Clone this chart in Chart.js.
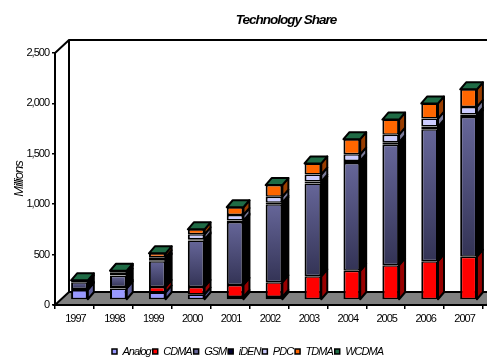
<!DOCTYPE html>
<html>
<head>
<meta charset="utf-8">
<title>Technology Share</title>
<script src="https://cdn.jsdelivr.net/npm/chart.js@4/dist/chart.umd.min.js"></script>
<style>
    html, body { margin: 0; padding: 0; background: #fff; }
    canvas { display: block; }
</style>
</head>
<body>
<canvas id="shareChart" width="487" height="360"></canvas>
<script>
const years = ['1997', '1998', '1999', '2000', '2001', '2002', '2003', '2004', '2005', '2006', '2007'];

const analog = [100, 115, 75, 55, 30, 30, 0, 0, 0, 0, 0];
const cdma = [10, 15, 55, 75, 120, 145, 235, 290, 345, 385, 430];
const gsm = [65, 110, 255, 460, 625, 775, 920, 1070, 1195, 1310, 1385];
const iden = [0, 5, 10, 12, 13, 15, 20, 20, 25, 25, 25];
const pdc = [0, 30, 30, 50, 55, 60, 70, 65, 75, 80, 75];
const tdma = [20, 15, 38, 49, 77, 115, 110, 150, 150, 150, 175];
const wcdma = [0, 0, 0, 0, 0, 0, 0, 0, 0, 0, 0];

const seriesNames = ['Analog', 'CDMA', 'GSM', 'iDEN', 'PDC', 'TDMA', 'WCDMA'];
const seriesValues = [analog, cdma, gsm, iden, pdc, tdma, wcdma];
const faceColors = ['#9999ff', '#ff0000', '#666699', '#000033', '#ccccff', '#ff6600', '#1f6b45'];
const sideColors = ['#5c5c99', '#990000', '#000000', '#000000', '#7a7a99', '#993d00', '#134029'];

const wallDepth = 14;
const barDepthX = 6;
const barDepthY = 7;

// Floor and walls sit behind everything, axis lines get painted over them
const wallsPlugin = {
    id: 'walls',
    beforeDraw(chart) {
        const { ctx, chartArea: a } = chart;
        const backX = a.left + wallDepth;
        const backBottom = a.bottom - wallDepth + 1;
        const backTop = a.top - wallDepth + 1;
        ctx.save();
        ctx.lineWidth = 2;
        ctx.strokeStyle = '#000';

        ctx.fillStyle = '#808080';
        ctx.beginPath();
        ctx.moveTo(a.left, a.bottom);
        ctx.lineTo(backX, backBottom);
        ctx.lineTo(500, backBottom);
        ctx.lineTo(487, a.bottom);
        ctx.closePath();
        ctx.fill();
        ctx.stroke();

        ctx.beginPath();
        ctx.moveTo(a.left, a.top);
        ctx.lineTo(backX, backTop);
        ctx.lineTo(487, backTop);
        ctx.moveTo(backX, backTop);
        ctx.lineTo(backX, backBottom);
        ctx.stroke();
        ctx.restore();

        ctx.save();
        ctx.font = 'italic bold 13.5px "Liberation Sans"';
        ctx.fillStyle = '#000';
        ctx.textAlign = 'center';
        ctx.fillText('Technology Share', 286, 20);
        ctx.restore();
    }
};

// Bars stand in the middle of the floor, so shift them back and add side and top faces
const depthPlugin = {
    id: 'barDepth',
    beforeDatasetsDraw(chart) {
        chart.ctx.save();
        chart.ctx.translate(5, -5);
    },
    afterDatasetsDraw(chart) {
        const ctx = chart.ctx;
        ctx.lineWidth = 2;
        ctx.lineJoin = 'round';
        ctx.strokeStyle = '#000';
        seriesValues.forEach((values, s) => {
            chart.getDatasetMeta(s).data.forEach(bar => {
                if (bar.base - bar.y < 1) return;
                const right = bar.x + bar.width / 2;
                ctx.fillStyle = sideColors[s];
                ctx.beginPath();
                ctx.moveTo(right, bar.y);
                ctx.lineTo(right + barDepthX, bar.y - barDepthY);
                ctx.lineTo(right + barDepthX, bar.base - barDepthY);
                ctx.lineTo(right, bar.base);
                ctx.closePath();
                ctx.fill();
                ctx.stroke();
            });
        });
        // WCDMA has no height, its element marks the top of each stack
        chart.getDatasetMeta(seriesNames.length - 1).data.forEach(bar => {
            const left = bar.x - bar.width / 2;
            const right = bar.x + bar.width / 2;
            ctx.fillStyle = faceColors[seriesNames.length - 1];
            ctx.beginPath();
            ctx.moveTo(left, bar.y);
            ctx.lineTo(right, bar.y);
            ctx.lineTo(right + barDepthX, bar.y - barDepthY);
            ctx.lineTo(left + barDepthX, bar.y - barDepthY);
            ctx.closePath();
            ctx.fill();
            ctx.stroke();
        });
        ctx.restore();
    }
};

// Tight tracking on all the text
const trackingPlugin = {
    id: 'tracking',
    beforeUpdate(chart) { chart.ctx.letterSpacing = '-1px'; },
    beforeDraw(chart) { chart.ctx.letterSpacing = '-1px'; }
};

function gsmGradient(context) {
    const chart = context.chart;
    const y = chart.scales.y;
    if (!y || context.dataIndex === undefined) return faceColors[2];
    const i = context.dataIndex;
    const base = analog[i] + cdma[i];
    const g = chart.ctx.createLinearGradient(0, y.getPixelForValue(base + gsm[i]), 0, y.getPixelForValue(base));
    g.addColorStop(0, '#666699');
    g.addColorStop(1, '#333355');
    return g;
}

const datasets = seriesNames.map((name, s) => ({
    label: name,
    data: seriesValues[s],
    backgroundColor: s === 2 ? gsmGradient : faceColors[s],
    borderColor: '#000',
    borderWidth: { left: 2, right: 2, top: 1.5, bottom: 1.5 },
    borderSkipped: false,
    clip: false
}));

new Chart(document.getElementById('shareChart'), {
    type: 'bar',
    data: { labels: years, datasets: datasets },
    plugins: [trackingPlugin, wallsPlugin, depthPlugin],
    options: {
        responsive: false,
        animation: false,
        layout: { padding: { left: 12, right: 4, top: 53, bottom: -7 } },
        barPercentage: 0.43,
        categoryPercentage: 1,
        plugins: {
            tooltip: { enabled: false },
            legend: {
                position: 'bottom',
                labels: {
                    color: '#000',
                    font: { family: '"Liberation Sans"', size: 11, style: 'italic' },
                    usePointStyle: true,
                    pointStyle: 'rect',
                    boxWidth: 5,
                    boxHeight: 5,
                    padding: 2,
                    generateLabels() {
                        return seriesNames.map((name, s) => ({
                            text: name,
                            fillStyle: faceColors[s],
                            strokeStyle: '#000',
                            lineWidth: 1.5,
                            pointStyle: 'rect',
                            datasetIndex: s
                        }));
                    }
                }
            }
        },
        scales: {
            x: {
                stacked: true,
                afterFit(scale) { scale.height = 39; },
                grid: { drawOnChartArea: false, color: '#000', tickLength: 4, lineWidth: 1.5 },
                border: { color: '#000', width: 2 },
                ticks: {
                    color: '#000',
                    font: { family: '"Liberation Sans"', size: 11 },
                    labelOffset: 1,
                    maxRotation: 0,
                    padding: 3
                }
            },
            y: {
                stacked: true,
                min: 0,
                max: 2500,
                afterFit(scale) { scale.width = 43; },
                title: {
                    display: true,
                    text: 'Millions',
                    color: '#000',
                    font: { family: '"Liberation Sans"', size: 13, style: 'italic' },
                    padding: 0
                },
                grid: { drawOnChartArea: false, color: '#000', tickLength: 3, lineWidth: 1.5 },
                border: { color: '#000', width: 2 },
                ticks: {
                    color: '#000',
                    stepSize: 500,
                    font: { family: '"Liberation Sans"', size: 11 },
                    padding: 3,
                    callback: v => v.toLocaleString('en-US')
                }
            }
        }
    }
});
</script>
</body>
</html>
